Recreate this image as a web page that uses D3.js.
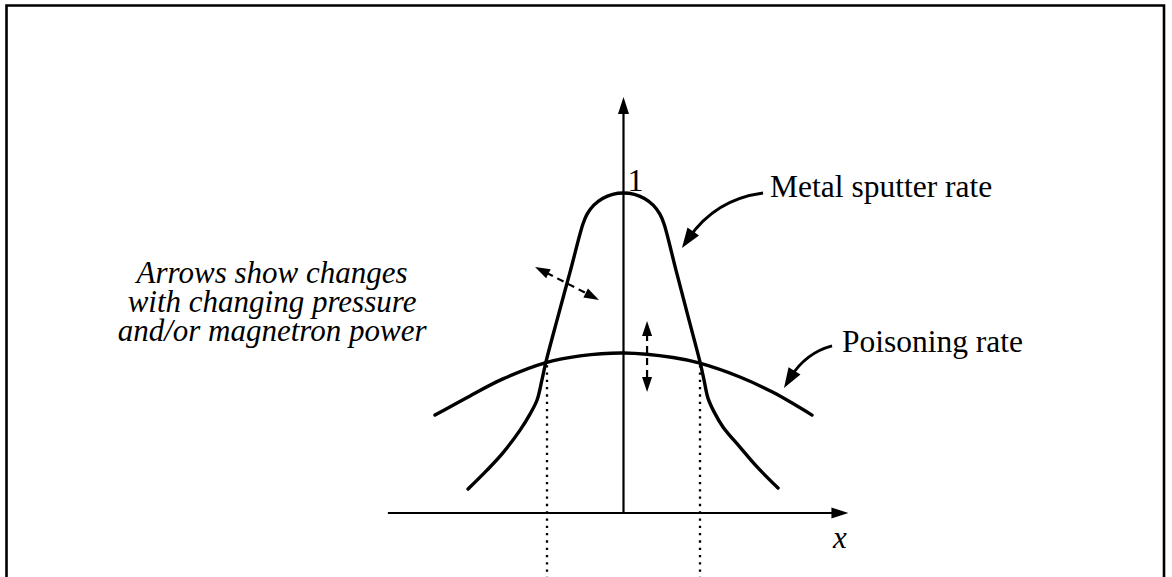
<!DOCTYPE html>
<html>
<head>
<meta charset="utf-8">
<script src="https://cdn.jsdelivr.net/npm/d3@7"></script>
<style>
  html, body { margin: 0; padding: 0; background: #fff; }
  svg { display: block; }
</style>
</head>
<body>
<script>
// Metal sputter rate across the target, normalised to 1 at the centre
const metalX = [-1.016, -0.892, -0.788, -0.676, -0.611, -0.565, -0.533, -0.507, -0.427, -0.346, -0.265,
                -0.238, -0.194, -0.137, -0.071, 0, 0.071, 0.137, 0.194, 0.238, 0.265,
                0.343, 0.421, 0.500, 0.526, 0.552, 0.592, 0.650, 0.761, 0.873, 1.010];
const metalY = [0.075, 0.134, 0.188, 0.259, 0.309, 0.353, 0.416, 0.472, 0.616, 0.759, 0.903,
                0.934, 0.962, 0.983, 0.996, 1.000, 0.996, 0.983, 0.962, 0.934, 0.903,
                0.759, 0.616, 0.472, 0.416, 0.359, 0.316, 0.269, 0.206, 0.144, 0.078];

// Poisoning rate across the target
const poisonX = [-1.232, -1.003, -0.788, -0.507, -0.284, 0, 0.324, 0.493, 0.761, 0.977, 1.232];
const poisonY = [0.306, 0.366, 0.419, 0.470, 0.491, 0.500, 0.486, 0.469, 0.425, 0.377, 0.306];

// Positions where the two rates cross (dotted guides)
const crossX = [-0.5, 0.5];

// Axis extents
const xAxisExtent = [-1.54, 1.47];
const yAxisExtent = [0, 1.30];
const yTickLabel = "1";
const xAxisLabel = "x";

// Curve labels and their pointers
const curveLabels = ["Metal sputter rate", "Poisoning rate"];
const labelPos = [[0.958, 0.9875], [1.428, 0.503]];
const pointerFrom = [[0.912, 1.000], [1.363, 0.522]];
const pointerTo = [[0.382, 0.828], [1.049, 0.391]];
const pointerBend = [[0.600, 0.980], [1.190, 0.500]];

// Double-headed arrows showing how the curves shift
const shiftFrom = [[-0.578, 0.769], [0.154, 0.600]];
const shiftTo = [[-0.160, 0.666], [0.154, 0.378]];

// Explanatory note
const noteLines = ["Arrows show changes", "with changing pressure", "and/or magnetron power"];
const noteAnchor = [-2.297, 0.7188];

const W = 1172, H = 577;
const serif = "'Liberation Serif', 'Times New Roman', Times, serif";

const x = d3.scaleLinear().domain([-1, 1]).range([470.5, 776.5]);
const y = d3.scaleLinear().domain([0, 1]).range([513, 193]);

const svg = d3.select("body").append("svg")
  .attr("width", W).attr("height", H);

svg.append("rect").attr("width", W).attr("height", H).attr("fill", "#fff");

// Frame (open at the bottom edge of the view)
svg.append("path")
  .attr("d", `M6.5,${H + 10} V5.5 H1164 V${H + 10}`)
  .attr("fill", "none").attr("stroke", "#000").attr("stroke-width", 2.6);

// Filled arrowhead with its tip at (tx, ty), pointing away from (fx, fy)
function head(g, fx, fy, tx, ty, len, half) {
  const a = Math.atan2(ty - fy, tx - fx);
  const bx = tx - len * Math.cos(a), by = ty - len * Math.sin(a);
  const px = -Math.sin(a) * half, py = Math.cos(a) * half;
  g.append("path")
    .attr("d", `M${tx},${ty} L${bx + px},${by + py} L${bx - px},${by - py} Z`)
    .attr("fill", "#000");
}

// Axes
const axes = svg.append("g");
axes.append("line")
  .attr("x1", x(xAxisExtent[0])).attr("x2", x(xAxisExtent[1]) - 10)
  .attr("y1", y(0)).attr("y2", y(0))
  .attr("stroke", "#000").attr("stroke-width", 2.2);
head(axes, x(xAxisExtent[0]), y(0), x(xAxisExtent[1]), y(0), 17, 5.5);

axes.append("line")
  .attr("x1", x(0)).attr("x2", x(0))
  .attr("y1", y(yAxisExtent[0])).attr("y2", y(yAxisExtent[1]) + 10)
  .attr("stroke", "#000").attr("stroke-width", 2.2);
head(axes, x(0), y(0), x(0), y(yAxisExtent[1]), 17, 5.5);

axes.append("text")
  .attr("x", x(0) + 4).attr("y", y(1.007))
  .attr("font-family", serif).attr("font-size", 32)
  .text(yTickLabel);

axes.append("text")
  .attr("x", x(1.369)).attr("y", y(-0.109))
  .attr("font-family", serif).attr("font-style", "italic").attr("font-size", 31)
  .text(xAxisLabel);

// Dotted guides at the crossing points
svg.selectAll("line.guide").data(crossX).join("line")
  .attr("class", "guide")
  .attr("x1", d => x(d)).attr("x2", d => x(d))
  .attr("y1", y(0.462)).attr("y2", H)
  .attr("stroke", "#000").attr("stroke-width", 2.3)
  .attr("stroke-dasharray", "2.3 5");

// Curves
const line = d3.line().x(d => x(d[0])).y(d => y(d[1]))
  .curve(d3.curveCatmullRom.alpha(0.5));

svg.append("path")
  .datum(metalX.map((v, i) => [v, metalY[i]]))
  .attr("d", line)
  .attr("fill", "none").attr("stroke", "#000").attr("stroke-width", 3.4)
  .attr("stroke-linecap", "round").attr("stroke-linejoin", "round");

svg.append("path")
  .datum(poisonX.map((v, i) => [v, poisonY[i]]))
  .attr("d", line)
  .attr("fill", "none").attr("stroke", "#000").attr("stroke-width", 3.4)
  .attr("stroke-linecap", "round");

// Curve labels with curved pointers
curveLabels.forEach((t, i) => {
  svg.append("text")
    .attr("x", x(labelPos[i][0])).attr("y", y(labelPos[i][1]))
    .attr("font-family", serif).attr("font-size", 31.5)
    .text(t);
  const [fx, fy] = [x(pointerFrom[i][0]), y(pointerFrom[i][1])];
  const [cx, cy] = [x(pointerBend[i][0]), y(pointerBend[i][1])];
  const [tx, ty] = [x(pointerTo[i][0]), y(pointerTo[i][1])];
  // stop the stroke short of the head
  const a = Math.atan2(ty - cy, tx - cx);
  const ex = tx - 12 * Math.cos(a), ey = ty - 12 * Math.sin(a);
  const g = svg.append("g");
  g.append("path")
    .attr("d", `M${fx},${fy} Q${cx},${cy} ${ex},${ey}`)
    .attr("fill", "none").attr("stroke", "#000").attr("stroke-width", 2.8);
  head(g, cx, cy, tx, ty, 20, 7);
});

// Double-headed dashed arrows
shiftFrom.forEach((s, i) => {
  const [ax, ay] = [x(s[0]), y(s[1])];
  const [bx, by] = [x(shiftTo[i][0]), y(shiftTo[i][1])];
  const len = Math.hypot(bx - ax, by - ay);
  const ux = (bx - ax) / len, uy = (by - ay) / len;
  const hl = 15;
  const g = svg.append("g");
  g.append("line")
    .attr("x1", ax + ux * (hl - 2)).attr("y1", ay + uy * (hl - 2))
    .attr("x2", bx - ux * (hl - 2)).attr("y2", by - uy * (hl - 2))
    .attr("stroke", "#000").attr("stroke-width", 2.2)
    .attr("stroke-dasharray", "7 5");
  head(g, bx, by, ax, ay, hl, 5);
  head(g, ax, ay, bx, by, hl, 5);
});

// Note text, centred lines
svg.append("text")
  .attr("font-family", serif).attr("font-style", "italic").attr("font-size", 31)
  .attr("text-anchor", "middle")
  .selectAll("tspan").data(noteLines).join("tspan")
  .attr("x", x(noteAnchor[0]))
  .attr("y", (d, i) => y(noteAnchor[1]) + i * 29)
  .text(d => d);
</script>
</body>
</html>
